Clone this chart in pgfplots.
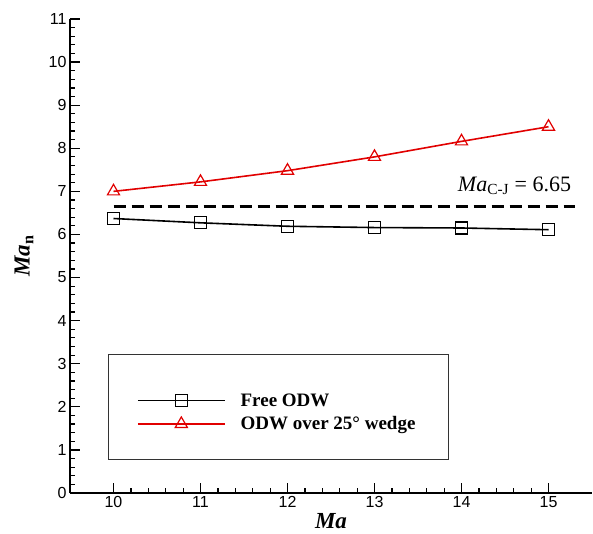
\documentclass[border=0pt]{standalone}
\usepackage{fontspec}
\setmainfont{Liberation Serif}
\newfontfamily\arial{Liberation Sans}
\usepackage{pgfplots}
\pgfplotsset{compat=1.18}
\definecolor{myred}{RGB}{225,0,0}
\begin{document}
\begin{tikzpicture}
\useasboundingbox (-70pt,-40pt) rectangle (523pt,493pt);
\begin{axis}[
  at={(0,0)}, anchor=south west,
  scale only axis, width=522pt, height=474pt,
  xmin=9.5, xmax=15.5, ymin=0, ymax=11,
  axis x line*=bottom, axis y line*=left,
  axis line style={line width=1.6pt, black},
  xtick={10,...,15}, ytick={0,...,11},
  minor x tick num=4, minor y tick num=4,
  tick align=inside,
  major tick length=10pt, minor tick length=5pt,
  every tick/.style={black, line width=1.2pt},
  tick label style={font=\arial\fontsize{16}{16}\selectfont},
  /pgf/number format/assume math mode=true,
  xlabel={\textbf{\textit{Ma}}},
  ylabel={\textbf{\textit{Ma}}\textsubscript{\textbf{n}}},
  label style={font=\fontsize{23}{23}\selectfont},
  xlabel style={at={(rel axis cs:0.5,0)}, anchor=base, yshift=-35pt},
  ylabel style={at={(rel axis cs:0,0.5)}, anchor=center, yshift=46pt},
  legend style={at={(rel axis cs:0.128,0.2145)}, anchor=north west, draw=none, fill=none,
    inner sep=0pt, font=\fontsize{19}{19}\selectfont, row sep=5pt,
    /tikz/every odd column/.append style={column sep=13pt}},
  legend cell align=left,
  legend image code/.code={\draw[mark repeat=2,mark phase=2,#1] plot coordinates {(0pt,0pt)(43.5pt,0pt)(87pt,0pt)};},
  clip=false,
]
\draw[black!80, line width=0.8pt] (rel axis cs:0.0728,0.0717) rectangle (rel axis cs:0.724,0.293);
\addplot[black, line width=2.2pt, dash pattern=on 12pt off 6pt, forget plot] coordinates {(10,6.65) (15.3,6.65)};
\addplot[black, line width=1.6pt, mark=square, mark size=6pt, mark options={solid, line width=1.2pt}]
  coordinates {(10,6.37) (11,6.27) (12,6.19) (13,6.16) (14,6.15) (15,6.11)};
\addlegendentry{\textbf{Free ODW}}
\addplot[myred, line width=1.6pt, mark=triangle, mark size=7pt, mark options={solid, line width=1.2pt}]
  coordinates {(10,7.0) (11,7.22) (12,7.48) (13,7.8) (14,8.16) (15,8.5)};
\addlegendentry{\textbf{ODW over 25° wedge}}
\node[anchor=base east, font=\fontsize{22}{22}\selectfont] at (axis cs:15.3,6.99) {\textit{Ma}\textsubscript{C-J} = 6.65};
\end{axis}
\end{tikzpicture}
\end{document}
